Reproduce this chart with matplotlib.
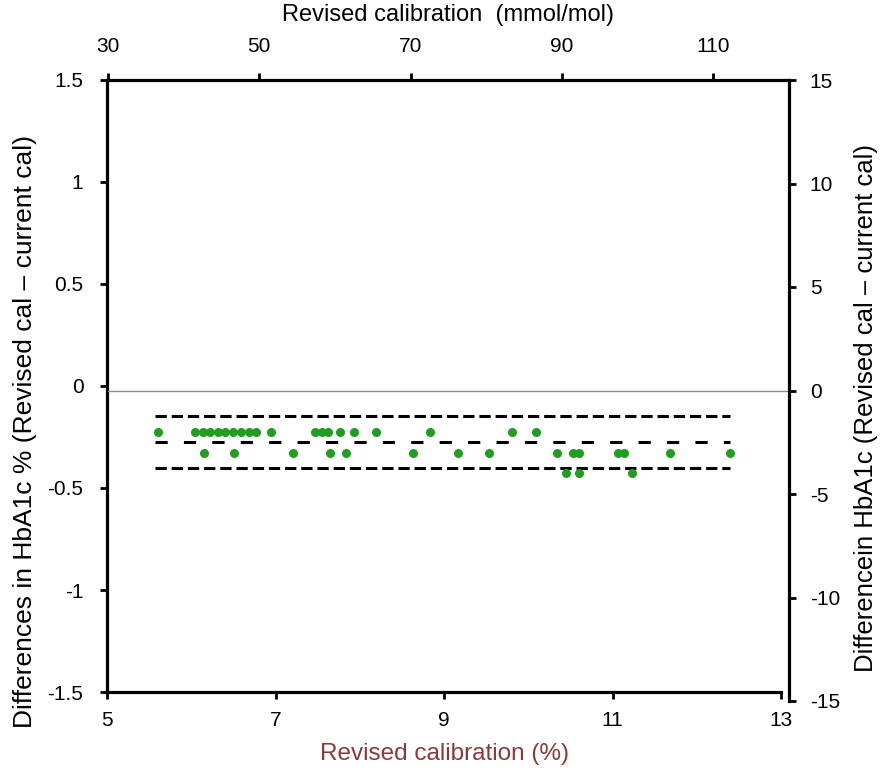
import matplotlib
matplotlib.use("Agg")
import matplotlib.pyplot as plt

plt.rcParams['font.family'] = ['Liberation Sans', 'DejaVu Sans']
plt.rcParams['axes.unicode_minus'] = False

# data, in mmol/mol (top / right axes)
x_diff2 = [36.6, 41.5, 42.5, 43.5, 44.5, 45.5, 46.5, 47.6, 48.6, 49.6, 51.6,
           57.4, 58.3, 59.1, 60.6, 62.5, 65.4, 72.5, 83.4, 86.5]
x_diff3 = [42.7, 46.7, 54.5, 59.4, 61.5, 70.3, 76.3, 80.4, 89.4, 91.4, 92.3,
           97.4, 98.2, 104.3, 112.2]
x_diff4 = [90.5, 92.2, 99.3]
y_diff2 = [-2.0] * len(x_diff2)
y_diff3 = [-3.0] * len(x_diff3)
y_diff4 = [-4.0] * len(x_diff4)

mean_diff = -2.5
upper_loa = -1.25
lower_loa = -3.75
line_x = [36.2, 112.2]

pct_ticks = [5, 7, 9, 11, 13]
pct_yticks = [1.5, 1, 0.5, 0, -0.5, -1, -1.5]
pct_ylabels = ['1.5', '1', '0.5', '0', '-0.5', '-1', '-1.5']
mmol_ticks = [30, 50, 70, 90, 110]
mmol_yticks = [15, 10, 5, 0, -5, -10, -15]

fig = plt.figure(figsize=(8.82, 7.7), dpi=100)

# main axes (%), left + bottom
ax = fig.add_axes([107/882, 78/770, 674/882, 612/770])
ax.set_xlim(5, 13)
ax.set_ylim(-1.5, 1.5)
ax.set_xticks(pct_ticks)
ax.set_yticks(pct_yticks)
ax.set_yticklabels(pct_ylabels)
for s in ['top', 'right']:
    ax.spines[s].set_visible(False)
for s in ['left', 'bottom']:
    ax.spines[s].set_linewidth(2.3)
ax.tick_params(direction='out', length=5, width=2, labelsize=15)
ax.tick_params(axis='y', pad=12)
ax.tick_params(axis='x', pad=9)
ax.set_xlabel('Revised calibration (%)', fontsize=17.5, color='#8b3a3a', labelpad=9)
ax.set_ylabel('Differences in HbA1c % (Revised cal \u2013 current cal)', fontsize=19)
ax.yaxis.set_label_coords(-0.104, 0.425)

# secondary axes (mmol/mol), top + right
ax2 = fig.add_axes([108/882, 69/770, 681/882, 621/770])
ax2.patch.set_visible(False)
ax2.set_xlim(30, 120)
ax2.set_ylim(-15, 15)
ax2.set_xticks(mmol_ticks)
ax2.set_yticks(mmol_yticks)
for s in ['bottom', 'left']:
    ax2.spines[s].set_visible(False)
for s in ['top', 'right']:
    ax2.spines[s].set_linewidth(2.3)
ax2.xaxis.tick_top()
ax2.xaxis.set_label_position('top')
ax2.yaxis.tick_right()
ax2.yaxis.set_label_position('right')
ax2.tick_params(direction='out', length=5, width=2, labelsize=15)
ax2.tick_params(axis='x', pad=12)
ax2.tick_params(axis='y', pad=10)
ax2.set_xlabel('Revised calibration  (mmol/mol)', fontsize=17, labelpad=12)
ax2.set_ylabel('Differencein HbA1c (Revised cal \u2013 current cal)', fontsize=18.5)
ax2.yaxis.set_label_coords(1.095, 0.472)

ax2.axhline(0, color='#8c8c8c', lw=1.0)

l1, = ax2.plot(line_x, [upper_loa] * 2, color='black', lw=2.2)
l1.set_dashes([3.7, 1.6])
l2, = ax2.plot(line_x, [mean_diff] * 2, color='black', lw=2.2)
l2.set_dashes([4.0, 5.3])
l3, = ax2.plot(line_x, [lower_loa] * 2, color='black', lw=2.2)
l3.set_dashes([3.7, 1.6])

green = '#1f9e1f'
ax2.plot(x_diff2, y_diff2, 'o', color=green, ms=5.5, mec=green)
ax2.plot(x_diff3, y_diff3, 'o', color=green, ms=5.5, mec=green)
ax2.plot(x_diff4, y_diff4, 'o', color=green, ms=5.5, mec=green)

fig.savefig('out.png', dpi=100)
